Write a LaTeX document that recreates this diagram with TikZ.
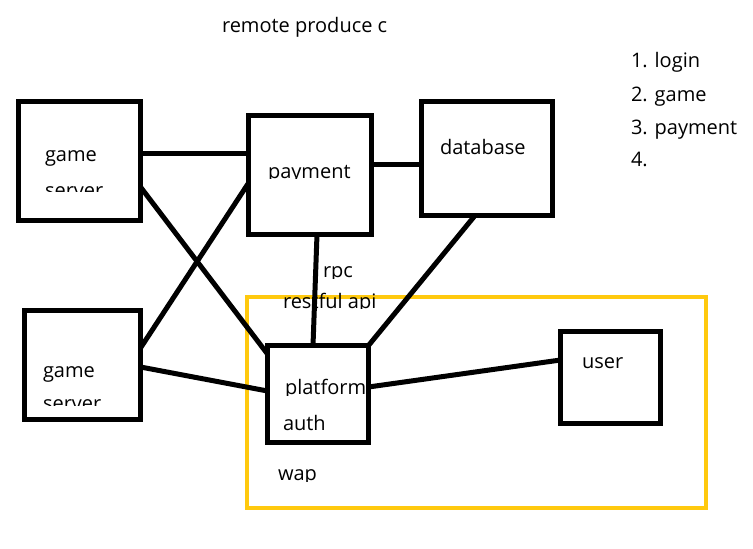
\documentclass[tikz,border=0pt]{standalone}
\usepackage{fontspec}
\setmainfont{Open Sans}
\usetikzlibrary{calc}
\definecolor{paintgold}{RGB}{255,201,14}
\tikzset{
  box/.style={draw=black, line width=3.75pt, outer sep=0pt, inner sep=0pt, fill=white},
  wapbox/.style={draw=paintgold, line width=3.4pt, outer sep=0pt, inner sep=0pt},
  link/.style={draw=black, line width=3.75pt},
  lbl/.style={anchor=base west, inner sep=0pt, outer sep=0pt, font=\fontsize{15}{18}\selectfont, text=black}
}
\begin{document}
\begin{tikzpicture}[x=0.75pt, y=-0.75pt]
\useasboundingbox (0,0) rectangle (753,549);
% wap frame
\node[wapbox, minimum width=344.25pt, minimum height=158.25pt] (wap) at (476.5,402.5) {};
% boxes
\node[box, minimum width=91.5pt, minimum height=89.25pt] (gs1) at (79.5,161) {};
\node[box, minimum width=92.25pt, minimum height=89.25pt] (pay) at (310,175) {};
\node[box, minimum width=98.25pt, minimum height=85.5pt] (db) at (487,158.5) {};
\node[box, minimum width=87pt, minimum height=81.75pt] (gs2) at (82.5,365) {};
\node[box, minimum width=75.75pt, minimum height=72.75pt] (plat) at (318,394) {};
\node[box, minimum width=75pt, minimum height=69pt] (user) at (610.5,377.5) {};
% connectors
\draw[link] ($(gs1.north east)+(0,52.5)$) -- ($(pay.north west)+(0,38.5)$);
\draw[link] ($(gs1.north east)+(0,85.5)$) -- ($(plat.north west)+(0,8.5)$);
\draw[link] ($(gs2.north east)+(0,37.5)$) -- ($(pay.north west)+(0,67.5)$);
\draw[link] ($(gs2.north east)+(0,56.5)$) -- ($(plat.north west)+(0,45.5)$);
\draw[link] ($(pay.north east)+(0,49.5)$) -- ($(db.north west)+(0,63.5)$);
\draw[link] ($(pay.south west)+(68.5,0)$) -- ($(plat.north west)+(45.5,0)$);
\draw[link] ($(db.south west)+(53.5,0)$) -- (plat.north east);
\draw[link] ($(plat.north east)+(0,41.5)$) -- ($(user.north west)+(0,28.5)$);
% texts
\node[lbl] (title) at (222,33) {remote produce c};
\node[lbl] (gs1a) at (45,162) {game};
\begin{scope}
  \clip (0,0) rectangle (753,192);
  \node[lbl] (gs1b) at (45,197) {server};
\end{scope}
\begin{scope}
  \clip (0,0) rectangle (753,179);
  \node[lbl] (payt) at (268,178.5) {payment};
\end{scope}
\node[lbl] (dbt) at (440,155) {database};
\node[lbl] (gs2a) at (43,377) {game};
\begin{scope}
  \clip (0,0) rectangle (753,405);
  \node[lbl] (gs2b) at (43,410) {server};
\end{scope}
\begin{scope}
  \clip (0,0) rectangle (753,278);
  \node[lbl] (rpc) at (323,277) {rpc};
\end{scope}
\begin{scope}
  \clip (0,0) rectangle (753,308.5);
  \node[lbl] (rest) at (283,308) {restful api};
\end{scope}
\begin{scope}
  \clip (0,0) rectangle (366,395);
  \node[lbl] (platt) at (285,394) {platform};
\end{scope}
\node[lbl] (auth) at (283,430) {auth};
\begin{scope}
  \clip (0,0) rectangle (753,481);
  \node[lbl] (wapt) at (278,480) {wap};
\end{scope}
\node[lbl] (usert) at (582,368) {user};
\node[lbl] (l1) at (631,68) {1. login};
\node[lbl] (l2) at (631,102) {2. game};
\node[lbl] (l3) at (631,135) {3. payment};
\node[lbl] (l4) at (631,167) {4.};
\end{tikzpicture}
\end{document}
